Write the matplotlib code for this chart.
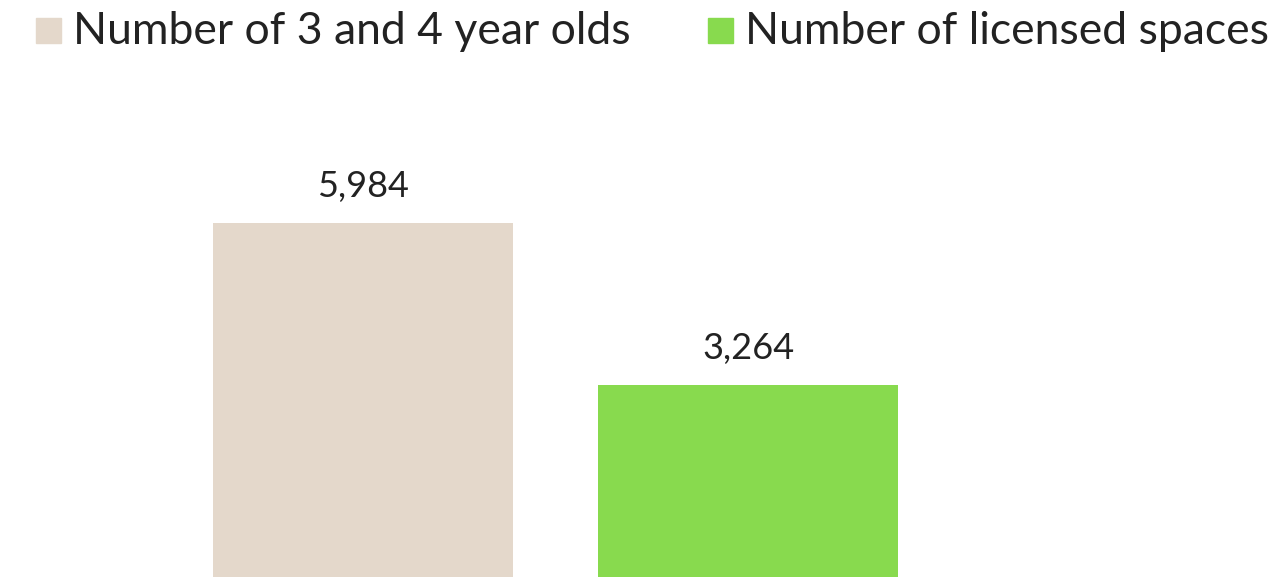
import matplotlib.pyplot as plt
from matplotlib.patches import Rectangle

plt.rcParams['font.family'] = ['Lato', 'DejaVu Sans']

# data
categories = ["Number of 3 and 4 year olds", "Number of licensed spaces"]
values = [5984, 3264]
colors = ["#E4D8CB", "#88DA4E"]

fig = plt.figure(figsize=(12.7, 5.77), dpi=100)
ax = fig.add_axes([0, 0, 1, 1])

x = [0, 1]
bars = ax.bar(x, values, width=0.78, color=colors)
for b, v in zip(bars, values):
    ax.text(b.get_x() + b.get_width() / 2, v + 340, f"{v:,}",
            ha="center", va="bottom", fontsize=26, color="#222222")

# baseline sits a few pixels below the bottom edge
ax.set_xlim(-0.943, 2.356)
ax.set_ylim(50, 9717)
ax.axis("off")

# legend drawn by hand to match spacing
leg_x = [36, 708]
for lx, label, c in zip(leg_x, categories, colors):
    fig.patches.append(Rectangle((lx / 1270, 1 - 43 / 577), 25 / 1270, 25 / 577,
                                 transform=fig.transFigure, color=c))
    fig.text((lx + 37) / 1270, 1 - 44 / 577, label, ha="left", va="baseline",
             fontsize=32, color="#222222")

fig.savefig("out.png", dpi=100)
